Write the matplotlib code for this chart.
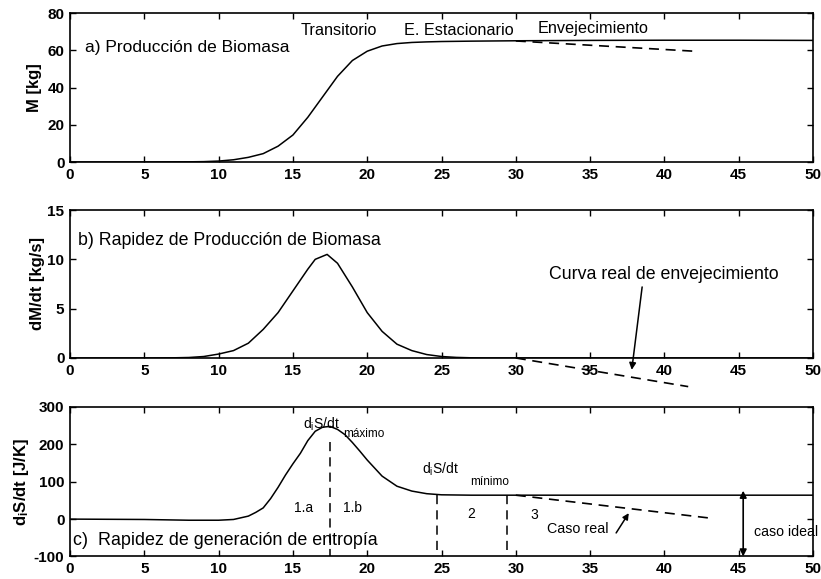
import matplotlib
matplotlib.use("Agg")
import matplotlib.pyplot as plt

plt.rcParams["font.family"] = ["Liberation Sans", "DejaVu Sans"]
plt.rcParams["mathtext.fontset"] = "custom"
plt.rcParams["mathtext.rm"] = "Liberation Sans"
plt.rcParams["mathtext.it"] = "Liberation Sans"
plt.rcParams["axes.unicode_minus"] = False

# ---- a) biomass production ----
t_mass = [0, 5, 8, 9, 10, 11, 12, 13, 14, 15, 16, 17, 18, 19, 20, 21, 22, 23,
          24, 25, 27, 30, 35, 40, 45, 50]
mass = [0, 0, 0.1, 0.2, 0.5, 1.2, 2.5, 4.5, 8.5, 14.5, 24, 35, 46, 54.5, 59.5,
        62.3, 63.6, 64.2, 64.5, 64.7, 64.9, 65.1, 65.3, 65.4, 65.4, 65.3]
t_mass_aging = [30, 42]
mass_aging = [65, 59.5]

# ---- b) biomass production rate ----
t_rate = [0, 5, 7, 8, 9, 10, 11, 12, 13, 14, 15, 16, 16.5, 17.3, 18, 19, 20,
          21, 22, 23, 24, 25, 26, 27, 28, 30, 35, 40, 45, 50]
rate = [0, 0, 0.02, 0.05, 0.15, 0.4, 0.75, 1.5, 2.9, 4.6, 6.8, 9.0, 10.0, 10.5,
        9.6, 7.2, 4.6, 2.7, 1.4, 0.75, 0.35, 0.15, 0.06, 0.02, 0, 0, 0, 0, 0, 0]
t_rate_aging = [30, 41.6]
rate_aging = [0, -2.9]

# ---- c) entropy generation rate ----
t_ent = [0, 5, 8, 10, 11, 12, 12.5, 13, 13.5, 14, 14.5, 15, 15.5, 16, 16.5, 17,
         17.5, 18, 18.5, 19, 19.5, 20, 21, 22, 23, 24, 25, 27, 30, 35, 40, 45, 50]
entropy = [0, -1, -3, -3, -1, 8, 18, 30, 55, 85, 118, 148, 176, 210, 235, 246,
           248, 240, 226, 205, 182, 158, 115, 88, 75, 68, 65, 64, 64, 64, 64, 64, 64]
t_ent_real = [30, 43]
entropy_real = [64, 3]

# phase boundaries and their upper ends
phase_t = [17.5, 24.7, 29.4]
phase_top = [205, 65, 64]
ideal_t = 45.3
ideal_level = 64

x_ticks = [0, 5, 10, 15, 20, 25, 30, 35, 40, 45, 50]

fig = plt.figure(figsize=(8.21, 5.79), dpi=100)
ax_a = fig.add_axes([0.0853, 0.7202, 0.9050, 0.2573])
ax_b = fig.add_axes([0.0853, 0.3817, 0.9050, 0.2556])
ax_c = fig.add_axes([0.0853, 0.0389, 0.9050, 0.2582])

TICK_FS = 11
YLAB_FS = 12
DASH = (0, (6, 4))


def style(ax, yticks, ylim):
    ax.set_xlim(0, 50)
    ax.set_ylim(*ylim)
    ax.set_xticks(x_ticks)
    ax.set_yticks(yticks)
    ax.tick_params(direction="in", length=4, width=1.0, top=True, right=True,
                   labelsize=TICK_FS, pad=4)
    for lab in ax.get_xticklabels() + ax.get_yticklabels():
        lab.set_fontweight("bold")
    for s in ax.spines.values():
        s.set_linewidth(1.2)


# panel a
ax_a.plot(t_mass, mass, color="black", lw=1.1)
ax_a.plot(t_mass_aging, mass_aging, color="black", lw=1.2, linestyle=DASH)
style(ax_a, [0, 20, 40, 60, 80], (0, 80))
ax_a.set_ylabel("M [kg]", fontsize=YLAB_FS, fontweight="bold", labelpad=4)
ax_a.text(1.0, 59.2, "a) Producción de Biomasa", fontsize=12.5, va="baseline")
ax_a.text(15.5, 68.2, "Transitorio", fontsize=11.7, va="baseline")
ax_a.text(22.5, 68.2, "E. Estacionario", fontsize=11.7, va="baseline")
ax_a.text(31.5, 69.1, "Envejecimiento", fontsize=11.7, va="baseline")

# panel b
ax_b.plot(t_rate, rate, color="black", lw=1.1)
ax_b.plot(t_rate_aging, rate_aging, color="black", lw=1.2, linestyle=DASH,
          clip_on=False)
style(ax_b, [0, 5, 10, 15], (0, 15))
ax_b.set_ylabel("dM/dt [kg/s]", fontsize=YLAB_FS, fontweight="bold", labelpad=2)
ax_b.text(0.55, 11.45, "b) Rapidez de Producción de Biomasa", fontsize=12.75,
          va="baseline")
ax_b.text(32.2, 7.97, "Curva real de envejecimiento", fontsize=12.8,
          va="baseline")
ax_b.annotate("", xy=(37.8, -1.2), xytext=(38.5, 7.2),
              arrowprops=dict(arrowstyle="-|>", color="black", lw=1.1,
                              mutation_scale=10, shrinkA=0, shrinkB=0),
              annotation_clip=False)

# panel c
ax_c.plot(t_ent, entropy, color="black", lw=1.1)
ax_c.plot(t_ent_real, entropy_real, color="black", lw=1.2, linestyle=DASH)
for xt, top in zip(phase_t, phase_top):
    ax_c.plot([xt, xt], [top, -100], color="black", lw=1.1, linestyle=DASH)
ax_c.annotate("", xy=(ideal_t, -100), xytext=(ideal_t, ideal_level + 12),
              arrowprops=dict(arrowstyle="<|-|>", color="black", lw=1.2,
                              mutation_scale=10, shrinkA=0, shrinkB=0),
              annotation_clip=False)
style(ax_c, [-100, 0, 100, 200, 300], (-100, 300))
ax_c.set_ylabel(r"d$_{\mathregular{i}}$S/dt [J/K]", fontsize=YLAB_FS,
                fontweight="bold", labelpad=2)

ax_c.text(0.2, -70.5, "c)  Rapidez de generación de entropía", fontsize=12.9,
          va="baseline")
ax_c.text(15.7, 241, r"d$_{\mathregular{i}}$S/dt", fontsize=10, va="baseline")
ax_c.text(18.4, 220, "máximo", fontsize=8.5, va="baseline")
ax_c.text(23.7, 122, r"d$_{\mathregular{i}}$S/dt", fontsize=10, va="baseline")
ax_c.text(26.9, 90.6, "mínimo", fontsize=8.5, va="baseline")
ax_c.text(15.1, 19, "1.a", fontsize=10, va="baseline")
ax_c.text(18.4, 19, "1.b", fontsize=10, va="baseline")
ax_c.text(26.7, 2, "2", fontsize=10, va="baseline")
ax_c.text(31.0, 0, "3", fontsize=10, va="baseline")
ax_c.text(32.1, -38, "Caso real", fontsize=10.3, va="baseline")
ax_c.annotate("", xy=(37.6, 16), xytext=(36.75, -37),
              arrowprops=dict(arrowstyle="-|>", color="black", lw=1.1,
                              mutation_scale=9, shrinkA=0, shrinkB=0))
ax_c.text(46.0, -44, "caso ideal", fontsize=10.2, va="baseline", clip_on=False)

fig.savefig("out.png", dpi=100)
